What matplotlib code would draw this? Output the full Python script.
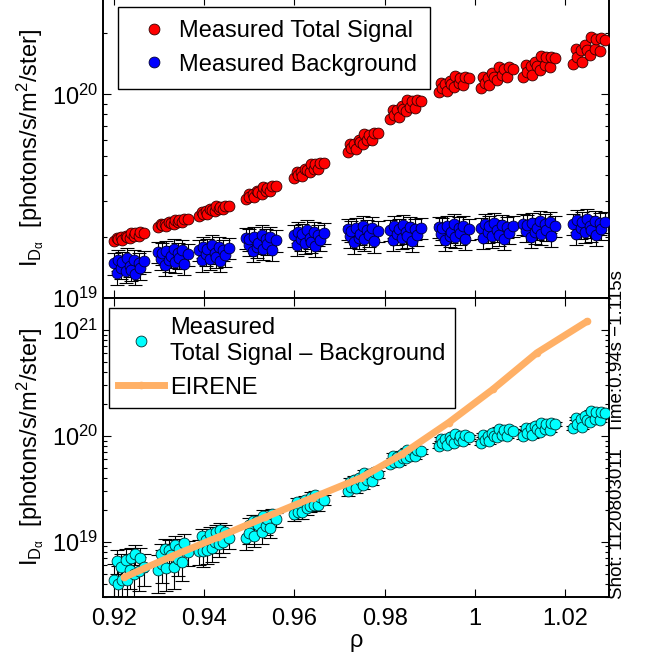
import numpy as np
import matplotlib
matplotlib.use("Agg")
import matplotlib.pyplot as plt
from matplotlib.lines import Line2D
from matplotlib.ticker import FixedLocator, LogLocator, NullFormatter

plt.rcParams['font.family'] = ['Liberation Sans', 'DejaVu Sans']
plt.rcParams['mathtext.fontset'] = 'custom'
plt.rcParams['mathtext.rm'] = 'Liberation Sans'
plt.rcParams['mathtext.it'] = 'Liberation Sans:italic'
plt.rcParams['mathtext.default'] = 'regular'

# ---------------- data (intensities in units of 1e19 photons/s/m^2/ster) ----------------
rho_c1 = [0.9200, 0.9206, 0.9208, 0.9215, 0.9218, 0.9225, 0.9228, 0.9235, 0.9237, 0.9244, 0.9247, 0.9254, 0.9258, 0.9266]
rho_c2 = [0.9297, 0.9303, 0.9305, 0.9312, 0.9315, 0.9322, 0.9325, 0.9332, 0.9334, 0.9341, 0.9344, 0.9351, 0.9355, 0.9364]
rho_c3 = [0.9388, 0.9394, 0.9396, 0.9403, 0.9406, 0.9413, 0.9416, 0.9423, 0.9425, 0.9432, 0.9435, 0.9442, 0.9446, 0.9455]
rho_c4 = [0.9492, 0.9498, 0.9500, 0.9507, 0.9510, 0.9517, 0.9520, 0.9527, 0.9529, 0.9536, 0.9539, 0.9546, 0.9550, 0.9559]
rho_c5 = [0.9599, 0.9605, 0.9607, 0.9614, 0.9617, 0.9624, 0.9627, 0.9634, 0.9636, 0.9643, 0.9646, 0.9653, 0.9657, 0.9666]
rho_c6 = [0.9718, 0.9724, 0.9726, 0.9733, 0.9736, 0.9743, 0.9746, 0.9753, 0.9755, 0.9762, 0.9765, 0.9772, 0.9776, 0.9785]
rho_c7 = [0.9813, 0.9819, 0.9821, 0.9828, 0.9831, 0.9838, 0.9841, 0.9848, 0.9850, 0.9857, 0.9860, 0.9867, 0.9871, 0.9880]
rho_c8 = [0.9920, 0.9926, 0.9928, 0.9935, 0.9938, 0.9945, 0.9948, 0.9955, 0.9957, 0.9964, 0.9967, 0.9974, 0.9978, 0.9987]
rho_c9 = [1.0013, 1.0019, 1.0022, 1.0029, 1.0032, 1.0039, 1.0043, 1.0050, 1.0053, 1.0060, 1.0064, 1.0071, 1.0075, 1.0084]
rho_c10 = [1.0108, 1.0114, 1.0117, 1.0124, 1.0127, 1.0134, 1.0138, 1.0145, 1.0148, 1.0155, 1.0159, 1.0166, 1.0170, 1.0179]
rho_c11 = [1.0219, 1.0225, 1.0228, 1.0235, 1.0238, 1.0245, 1.0249, 1.0256, 1.0259, 1.0266, 1.0270, 1.0277, 1.0281, 1.0290]

total_c1 = [1.91, 1.98, 1.94, 1.99, 1.93, 2.02, 2.00, 1.98, 2.08, 2.02, 2.08, 2.02, 2.10, 2.09]
total_c2 = [2.23, 2.32, 2.28, 2.32, 2.26, 2.36, 2.34, 2.32, 2.43, 2.36, 2.43, 2.36, 2.45, 2.44]
total_c3 = [2.54, 2.66, 2.60, 2.67, 2.59, 2.73, 2.70, 2.67, 2.82, 2.73, 2.81, 2.73, 2.84, 2.84]
total_c4 = [3.06, 3.25, 3.15, 3.26, 3.13, 3.35, 3.31, 3.26, 3.50, 3.35, 3.49, 3.35, 3.54, 3.54]
total_c5 = [3.87, 4.17, 4.02, 4.18, 3.97, 4.32, 4.24, 4.16, 4.55, 4.31, 4.53, 4.29, 4.59, 4.58]
total_c6 = [5.19, 5.69, 5.45, 5.73, 5.38, 5.97, 5.85, 5.71, 6.37, 5.98, 6.35, 5.96, 6.48, 6.46]
total_c7 = [7.58, 8.41, 7.95, 8.41, 7.78, 8.76, 8.52, 8.26, 9.35, 8.66, 9.26, 8.57, 9.41, 9.33]
total_c8 = [10.3, 11.4, 10.7, 11.3, 10.4, 11.7, 11.3, 10.9, 12.3, 11.4, 12.1, 11.1, 12.2, 12.0]
total_c9 = [10.8, 12.2, 11.4, 12.1, 11.1, 12.7, 12.2, 11.8, 13.6, 12.4, 13.4, 12.2, 13.6, 13.4]
total_c10 = [12.2, 13.9, 12.9, 13.8, 12.4, 14.4, 13.8, 13.2, 15.4, 14.0, 15.2, 13.6, 15.3, 15.1]
total_c11 = [14.1, 16.7, 15.2, 16.6, 14.4, 17.5, 16.6, 15.7, 19.2, 16.8, 18.8, 16.3, 19.0, 18.6]

bg_c1 = [1.48, 1.32, 1.54, 1.41, 1.50, 1.35, 1.57, 1.44, 1.38, 1.53, 1.31, 1.49, 1.40, 1.52]
bg_c2 = [1.69, 1.56, 1.66, 1.46, 1.70, 1.53, 1.60, 1.74, 1.50, 1.67, 1.57, 1.72, 1.47, 1.64]
bg_c3 = [1.72, 1.53, 1.79, 1.64, 1.75, 1.56, 1.82, 1.67, 1.59, 1.78, 1.52, 1.73, 1.62, 1.76]
bg_c4 = [1.97, 1.82, 1.94, 1.70, 1.99, 1.79, 1.87, 2.04, 1.75, 1.95, 1.84, 2.00, 1.72, 1.92]
bg_c5 = [2.03, 1.82, 2.12, 1.94, 2.07, 1.86, 2.16, 1.98, 1.89, 2.10, 1.80, 2.05, 1.93, 2.09]
bg_c6 = [2.18, 2.01, 2.14, 1.88, 2.20, 1.98, 2.07, 2.26, 1.94, 2.16, 2.03, 2.22, 1.90, 2.13]
bg_c7 = [2.16, 1.93, 2.25, 2.06, 2.19, 1.97, 2.29, 2.10, 2.01, 2.23, 1.91, 2.18, 2.04, 2.21]
bg_c8 = [2.23, 2.06, 2.20, 1.93, 2.25, 2.02, 2.12, 2.31, 1.99, 2.22, 2.08, 2.27, 1.95, 2.18]
bg_c9 = [2.21, 1.98, 2.30, 2.11, 2.25, 2.01, 2.34, 2.15, 2.05, 2.29, 1.96, 2.23, 2.09, 2.27]
bg_c10 = [2.32, 2.14, 2.28, 2.00, 2.34, 2.10, 2.20, 2.40, 2.06, 2.30, 2.16, 2.36, 2.02, 2.26]
bg_c11 = [2.31, 2.07, 2.41, 2.21, 2.35, 2.11, 2.45, 2.25, 2.15, 2.39, 2.05, 2.33, 2.19, 2.37]

bg_rel_err = 0.12
total_rel_err = 0.03

eirene_rho = [0.9222, 0.9325, 0.9430, 0.9535, 0.9640, 0.9747, 0.9839, 0.9942, 1.0040, 1.0138, 1.0249]
eirene_val = [0.46, 0.72, 1.10, 1.70, 2.60, 4.00, 6.70, 13.3, 27.4, 60.7, 120.0]

xtick_vals = [0.92, 0.94, 0.96, 0.98, 1.00, 1.02]
xtick_labels = ['0.92', '0.94', '0.96', '0.98', '1', '1.02']

# ---------------- assemble ----------------
unit = 1e19
rho = np.concatenate([rho_c1, rho_c2, rho_c3, rho_c4, rho_c5, rho_c6,
                      rho_c7, rho_c8, rho_c9, rho_c10, rho_c11])
total = unit * np.concatenate([total_c1, total_c2, total_c3, total_c4, total_c5, total_c6,
                               total_c7, total_c8, total_c9, total_c10, total_c11])
bg = unit * np.concatenate([bg_c1, bg_c2, bg_c3, bg_c4, bg_c5, bg_c6,
                            bg_c7, bg_c8, bg_c9, bg_c10, bg_c11])
bg_err = bg_rel_err * bg
diff = total - bg
diff_err = np.sqrt(bg_err**2 + (total_rel_err * total)**2)
eir = unit * np.array(eirene_val)

FS = 17
fig = plt.figure(figsize=(6.6, 6.57), dpi=100)
W, H = 660.0, 657.0
L, R = 103, 609
ax1 = fig.add_axes([L / W, (H - 298) / H, (R - L) / W, 298 / H + 0.004])
ax2 = fig.add_axes([L / W, (H - 597) / H, (R - L) / W, 299 / H])

ms = 7.8
mew = 0.6
# top panel
ax1.errorbar(rho, bg, yerr=bg_err, fmt='none', ecolor='k', elinewidth=0.8,
             capsize=5, capthick=0.8, zorder=2)
ax1.plot(rho, total, 'o', ls='none', mfc='#FF0000', mec='#300000', ms=ms, mew=mew, zorder=3)
ax1.plot(rho, bg, 'o', ls='none', mfc='#0000FF', mec='#000030', ms=ms, mew=mew, zorder=3)

# bottom panel
ax2.errorbar(rho, diff, yerr=diff_err, fmt='none', ecolor='k', elinewidth=0.8,
             capsize=5, capthick=0.8, zorder=2)
ax2.plot(rho, diff, 'o', ls='none', mfc='#00FFFF', mec='#003030', ms=ms, mew=mew, zorder=3)
eir_color = '#FFB066'
ax2.plot(eirene_rho, eir, '-', color=eir_color, lw=5, marker='o', ms=4.5,
         mfc=eir_color, mec=eir_color, zorder=4, solid_capstyle='round')

for ax in (ax1, ax2):
    ax.set_yscale('log')
    ax.set_xlim(0.9175, 1.0298)
    ax.xaxis.set_major_locator(FixedLocator(xtick_vals))
    ax.yaxis.set_major_locator(LogLocator(base=10, numticks=10))
    ax.yaxis.set_minor_locator(LogLocator(base=10, subs=np.arange(2, 10), numticks=20))
    ax.yaxis.set_minor_formatter(NullFormatter())
    ax.tick_params(which='both', direction='in', top=True, right=True, labelsize=FS, width=0.8)
    ax.tick_params(which='major', length=6)
    ax.tick_params(which='minor', length=3)
    for sp in ax.spines.values():
        sp.set_linewidth(1.4)

ax1.set_ylim(1e19, 3.0e20)
ax2.set_ylim(3e18, 2e21)
ax1.tick_params(labelbottom=False)
ax2.set_xticklabels(xtick_labels)
ax2.tick_params(axis='x', pad=8)

ylab = r'$\mathregular{I_{D_{α}}}$  [photons/s/m$^\mathregular{2}$/ster]'
ax1.set_ylabel(ylab, fontsize=FS)
ax2.set_ylabel(ylab, fontsize=FS)
ax1.yaxis.set_label_coords(-0.113, 0.5)
ax2.yaxis.set_label_coords(-0.113, 0.5)
ax2.set_xlabel('ρ', fontsize=FS, labelpad=0)

# legends
h_red = Line2D([], [], ls='none', marker='o', mfc='#FF0000', mec='#300000', ms=ms, mew=mew)
h_blue = Line2D([], [], ls='none', marker='o', mfc='#0000FF', mec='#000030', ms=ms, mew=mew)
leg1 = ax1.legend([h_red, h_blue], ['Measured Total Signal', 'Measured Background'],
                  loc='upper left', bbox_to_anchor=(118 / W, 1 - 7 / H),
                  bbox_transform=fig.transFigure, borderaxespad=0, fontsize=FS,
                  frameon=True, fancybox=False, edgecolor='k', framealpha=1,
                  handlelength=1.9, handletextpad=0.12, borderpad=0.56, labelspacing=0.48)
leg1.get_frame().set_linewidth(1.0)

h_cyan = Line2D([], [], ls='none', marker='o', mfc='#00FFFF', mec='#003030', ms=ms, mew=mew)
h_eir = Line2D([], [], color=eir_color, lw=5, marker='o', ms=4.5, mfc=eir_color, mec=eir_color)
leg2 = ax2.legend([h_cyan, h_eir], ['Measured\nTotal Signal \u2013 Background', 'EIRENE'],
                  loc='upper left', bbox_to_anchor=(109 / W, 1 - 308 / H),
                  bbox_transform=fig.transFigure, borderaxespad=0, fontsize=FS,
                  frameon=True, fancybox=False, edgecolor='k', framealpha=1,
                  handlelength=1.95, handletextpad=0.25, borderpad=0.4, labelspacing=0.5)
leg2.get_frame().set_linewidth(1.0)
leg2.get_texts()[0].set_linespacing(1.2)

fig.text(618 / W, (H - 599) / H, 'Shot: 1120803011   Time:0.94s \u22121.115s',
         rotation=90, ha='center', va='bottom', fontsize=13.5)

fig.savefig('out.png', dpi=100)
